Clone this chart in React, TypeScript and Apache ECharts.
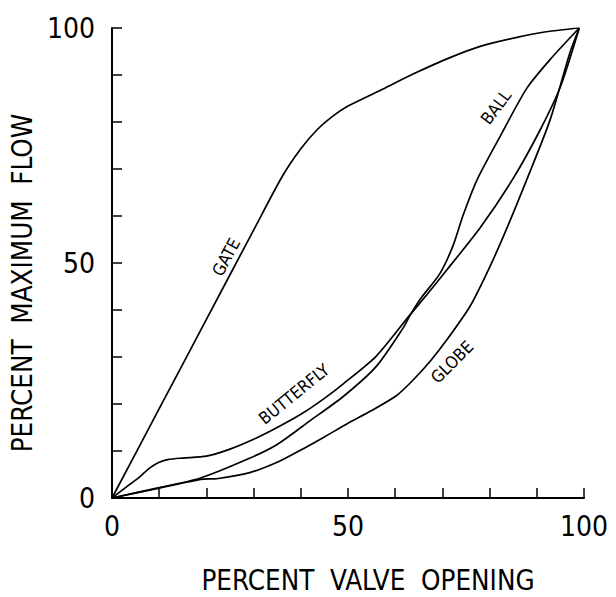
import React, { useEffect, useRef } from "react";
import * as echarts from "echarts";

const xTicks = [0, 50, 100];
const yTicks = [0, 50, 100];

const gate: number[][] = [
  [0, 0], [10, 19], [20, 38], [30, 57], [36, 68.3], [40, 74.3], [43.4, 78.3],
  [47, 81.4], [50, 83.4], [57.4, 87], [64, 90.3], [71.6, 93.7], [78, 96.1],
  [85.8, 98], [92, 99.2], [99, 100],
];
const butterfly: number[][] = [
  [0, 0], [3, 2.3], [6, 4.6], [8, 6.4], [10, 7.6], [12, 8.2], [15, 8.5],
  [20, 8.9], [25, 10.4], [30, 12.5], [35, 15], [40, 17.8], [45, 21.2],
  [49, 24.3], [56, 30.2], [63, 38.8], [67, 43.6], [71, 48.6], [78, 57.5],
  [85, 68], [90.7, 78.3], [95, 87.5], [99, 100],
];
const ball: number[][] = [
  [0, 0], [10, 2.2], [18.6, 4.2], [29, 8.4], [35, 11.4], [41.9, 16.4],
  [49, 21.6], [56, 28], [61.7, 36.2], [63.1, 38.8], [65.3, 42.3], [69.5, 47.8],
  [72.3, 53.8], [74.4, 60.2], [77.3, 67.6], [82, 76.5], [87.9, 87.2],
  [93, 93.5], [99, 100],
];
const globe: number[][] = [
  [0, 0], [10, 2.1], [19.3, 4.0], [22.2, 4.1], [29.2, 5.4], [35, 7.6],
  [39.8, 10.1], [45, 13], [50, 15.9], [55, 18.6], [60.3, 21.8], [63.8, 25.1],
  [67.5, 29.2], [70.9, 33.6], [75.8, 40.7], [79.4, 47.8], [82.9, 55.6],
  [87.9, 67.8], [92.8, 80.4], [97, 94.7], [99, 100],
];

const FONT = "'Liberation Sans Narrow', 'DejaVu Sans Condensed', 'Arial Narrow', sans-serif";

export default function App() {
  const ref = useRef<HTMLDivElement>(null);
  useEffect(() => {
    document.body.style.margin = "0";
    const chart = echarts.init(ref.current!, null, { renderer: "svg" });
    const lineSeries = (name: string, data: number[][]) => ({
      name,
      type: "line",
      data,
      showSymbol: false,
      smooth: 0.25,
      lineStyle: { color: "#000", width: 1.7 },
      silent: true,
    });
    const label = (text: string, x: number, y: number, deg: number) => ({
      type: "text",
      x,
      y,
      rotation: (deg * Math.PI) / 180,
      style: {
        text,
        fill: "#000",
        font: `17px ${FONT}`,
        align: "center",
        verticalAlign: "middle",
      },
    });
    chart.setOption({
      animation: false,
      backgroundColor: "#fff",
      grid: {
        left: 112, right: 32, top: 28, bottom: 99,
        containLabel: false, outerBoundsMode: "none",
      },
      xAxis: {
        type: "value",
        min: 0,
        max: 100,
        interval: 10,
        axisLine: { lineStyle: { color: "#000", width: 2 } },
        axisTick: { inside: true, length: 10, lineStyle: { color: "#000", width: 1.5 } },
        splitLine: { show: false },
        axisLabel: {
          color: "#000",
          fontSize: 28,
          fontFamily: FONT,
          margin: 14,
          showMaxLabel: true,
          formatter: (v: number) => (xTicks.includes(v) ? String(v) : ""),
        },
        name: "PERCENT  VALVE  OPENING",
        nameLocation: "middle",
        nameGap: 68,
        nameTextStyle: { color: "#000", fontSize: 27.5, fontFamily: FONT, padding: [0, 0, 0, 40] },
      },
      yAxis: {
        type: "value",
        min: 0,
        max: 100,
        interval: 10,
        axisLine: { show: true, lineStyle: { color: "#000", width: 2 } },
        axisTick: { show: true, inside: true, length: 10, lineStyle: { color: "#000", width: 1.5 } },
        splitLine: { show: false },
        axisLabel: {
          color: "#000",
          fontSize: 28,
          fontFamily: FONT,
          margin: 17,
          showMaxLabel: true,
          formatter: (v: number) => (yTicks.includes(v) ? String(v) : ""),
        },
        name: "PERCENT  MAXIMUM  FLOW",
        nameLocation: "middle",
        nameGap: 76,
        nameTextStyle: { color: "#000", fontSize: 27.5, fontFamily: FONT, padding: [0, 40, 0, 0] },
      },
      series: [
        lineSeries("GATE", gate),
        lineSeries("BUTTERFLY", butterfly),
        lineSeries("BALL", ball),
        lineSeries("GLOBE", globe),
      ],
      graphic: [
        label("GATE", 226, 257, 62),
        label("BUTTERFLY", 294, 394, 39),
        label("BALL", 496, 107, 53),
        label("GLOBE", 452, 362, 45),
      ],
    });
    return () => chart.dispose();
  }, []);
  return <div ref={ref} style={{ width: 616, height: 597 }} />;
}
